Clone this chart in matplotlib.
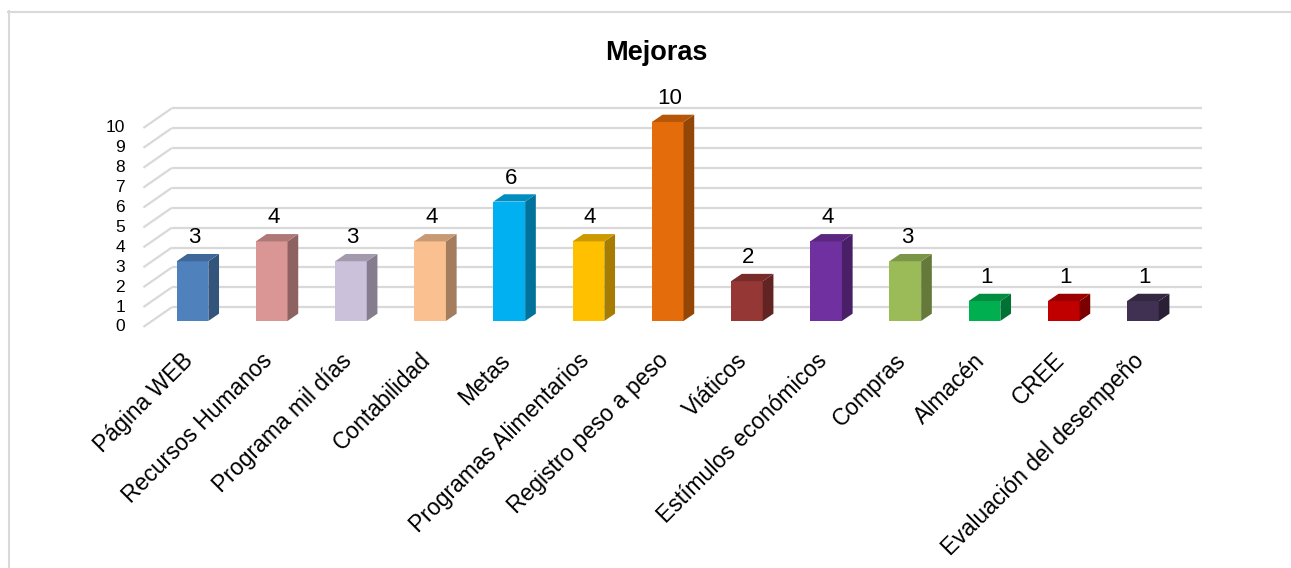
import matplotlib
matplotlib.use("Agg")
import matplotlib.pyplot as plt
from matplotlib.colors import to_rgb
from matplotlib.patches import Polygon
from matplotlib.lines import Line2D

categories = [
    "Página WEB", "Recursos Humanos", "Programa mil días", "Contabilidad",
    "Metas", "Programas Alimentarios", "Registro peso a peso", "Viáticos",
    "Estímulos económicos", "Compras", "Almacén", "CREE",
    "Evaluación del desempeño",
]
values = [3, 4, 3, 4, 6, 4, 10, 2, 4, 3, 1, 1, 1]
colors = [
    "#4F81BD", "#D99694", "#CCC1DA", "#FAC090", "#00B0F0", "#FFC000",
    "#E46C0A", "#953735", "#7030A0", "#9BBB59", "#00B050", "#C00000",
    "#403152",
]
yticks = list(range(0, 11))
title = "Mejoras"

plt.rcParams["font.family"] = ["Liberation Sans", "DejaVu Sans"]

GRID = "#D9D9D9"
BAR_W = 0.40
# bar depth offset (x in category units, y in value units)
BAR_DX, BAR_DY = 0.135, 0.367
# floor / wall geometry
FRONT_Y = -0.30
WALL_DX, WALL_DY = 0.358, 0.99
FLOOR_L, FLOOR_R = -0.62, 12.39


def shade(c, f):
    r, g, b = to_rgb(c)
    return (r * f, g * f, b * f)


fig = plt.figure(figsize=(12.91, 5.68), dpi=100)
W, H = 1291, 568
x0, x1 = 113.3, 1222.1
y0, y1 = 332.9, 102.1
ax = fig.add_axes([x0 / W, 1 - y0 / H, (x1 - x0) / W, (y0 - y1) / H])
ax.set_xlim(-1.0, 13.0)
ax.set_ylim(-0.6, 11.0)
ax.axis("off")

# gridlines: back wall plus the slanted side to the front
for v in yticks:
    yb = v + FRONT_Y + WALL_DY
    ax.plot([FLOOR_L + WALL_DX, FLOOR_R + WALL_DX], [yb, yb], color=GRID, lw=1.6,
            zorder=1, solid_capstyle="butt")
    ax.plot([FLOOR_L, FLOOR_L + WALL_DX], [v + FRONT_Y, yb], color=GRID, lw=1.6,
            zorder=1, solid_capstyle="butt")
    ax.text(-0.85, v + FRONT_Y, str(v), ha="right", va="center", fontsize=12.5)

xs = list(range(len(categories)))
ax.bar(xs, values, width=BAR_W, color=colors, zorder=3)

for i, (v, c) in enumerate(zip(values, colors)):
    r = i + BAR_W / 2
    l = i - BAR_W / 2
    side = Polygon([(r, 0), (r + BAR_DX, BAR_DY), (r + BAR_DX, v + BAR_DY), (r, v)],
                   closed=True, facecolor=shade(c, 0.65), edgecolor="none", zorder=3)
    top = Polygon([(l, v), (r, v), (r + BAR_DX, v + BAR_DY), (l + BAR_DX, v + BAR_DY)],
                  closed=True, facecolor=shade(c, 0.8), edgecolor="none", zorder=3)
    ax.add_patch(side)
    ax.add_patch(top)
    ax.text(i + 0.02, v + 0.9, str(v), ha="center", va="baseline", fontsize=16)
    ax.text(i - 0.14, -1.4, categories[i], ha="right", va="top", rotation=45,
            rotation_mode="anchor", fontsize=16.5)

fig.text(656 / W, 1 - 60 / H, title, ha="center", va="baseline", fontsize=19.5,
         fontweight="bold")

# outer chart border (left and top edges visible)
fig.add_artist(Line2D([8.5 / W, 8.5 / W], [0, 1 - 11 / H], transform=fig.transFigure,
                      color=GRID, lw=1.5))
fig.add_artist(Line2D([8 / W, 1], [1 - 11.5 / H, 1 - 11.5 / H], transform=fig.transFigure,
                      color=GRID, lw=1.5))

fig.savefig("out.png", dpi=100)
